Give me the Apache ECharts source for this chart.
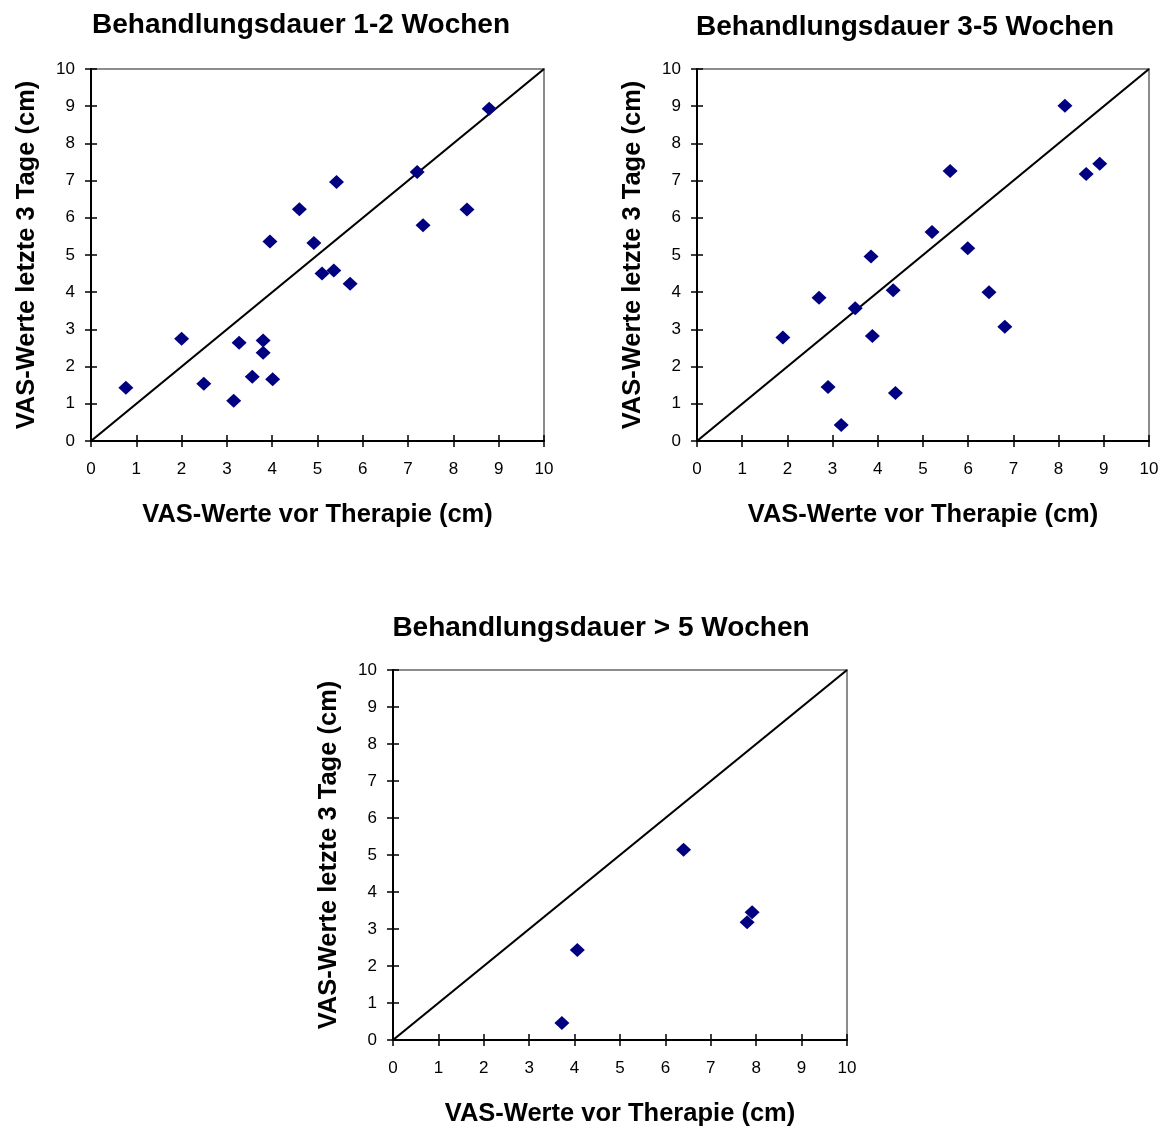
<!DOCTYPE html>
<html>
<head>
<meta charset="utf-8">
<title>Behandlungsdauer – VAS-Werte</title>
<script src="https://cdn.jsdelivr.net/npm/echarts@6/dist/echarts.min.js"></script>
<style>
  html, body { margin: 0; padding: 0; background: #ffffff; }
  #chart { width: 1170px; height: 1128px; }
</style>
</head>
<body>
<div id="chart"></div>
<script>
// VAS scores before therapy (x) and during the last 3 days (y), per treatment duration
const weeks12X = [0.77, 2.00, 2.49, 3.15, 3.27, 3.56, 3.80, 3.80, 4.01, 3.95, 4.60, 4.92, 5.10, 5.36, 5.42, 5.72, 7.20, 7.33, 8.30, 8.79];
const weeks12Y = [1.43, 2.75, 1.54, 1.08, 2.64, 1.73, 2.70, 2.37, 1.66, 5.36, 6.23, 5.32, 4.50, 4.58, 6.96, 4.23, 7.23, 5.80, 6.22, 8.93];

const weeks35X = [1.90, 2.70, 2.90, 3.19, 3.50, 3.85, 3.88, 4.34, 4.39, 5.20, 5.60, 5.99, 6.46, 6.81, 8.14, 8.61, 8.91];
const weeks35Y = [2.78, 3.85, 1.45, 0.43, 3.57, 4.96, 2.82, 4.05, 1.29, 5.62, 7.26, 5.18, 4.00, 3.07, 9.01, 7.18, 7.45];

const weeksOver5X = [3.72, 4.06, 6.40, 7.80, 7.91];
const weeksOver5Y = [0.46, 2.43, 5.14, 3.18, 3.45];

// line of no change (y = x)
const identityEnds = [0, 10];

const titles = ['Behandlungsdauer 1-2 Wochen', 'Behandlungsdauer 3-5 Wochen', 'Behandlungsdauer > 5 Wochen'];
const xAxisName = 'VAS-Werte vor Therapie (cm)';
const yAxisName = 'VAS-Werte letzte 3 Tage (cm)';

const panels = [
  { x: weeks12X, y: weeks12Y, grid: { left: 91, top: 69, width: 453, height: 372 }, titleX: 301, titleY: 11 },
  { x: weeks35X, y: weeks35Y, grid: { left: 697, top: 69, width: 452, height: 372 }, titleX: 905, titleY: 13 },
  { x: weeksOver5X, y: weeksOver5Y, grid: { left: 393, top: 670, width: 454, height: 372 }, titleX: 601, titleY: 614 }
];

const FONT = '"Liberation Sans", Arial, Helvetica, sans-serif';

const option = {
  backgroundColor: '#ffffff',
  animation: false,
  title: [],
  grid: [],
  xAxis: [],
  yAxis: [],
  series: []
};

panels.forEach((p, i) => {
  option.title.push({
    text: titles[i],
    left: p.titleX,
    top: p.titleY,
    textAlign: 'center',
    padding: 0,
    textStyle: { fontFamily: FONT, fontSize: 28, fontWeight: 'bold', color: '#000' }
  });
  option.grid.push(Object.assign({
    show: true,
    borderColor: '#8c8c8c',
    borderWidth: 2,
    backgroundColor: 'transparent'
  }, p.grid));

  // main axes: line, outward ticks, labels, names
  option.xAxis.push({
    gridIndex: i, type: 'value', min: 0, max: 10, interval: 1,
    position: 'bottom',
    name: xAxisName, nameLocation: 'middle', nameGap: 61,
    nameTextStyle: { fontFamily: FONT, fontSize: 25.5, fontWeight: 'bold', color: '#000' },
    axisLine: { show: true, lineStyle: { color: '#000', width: 2 } },
    axisTick: { show: true, length: 6, lineStyle: { color: '#000', width: 1.5 } },
    axisLabel: { fontFamily: FONT, fontSize: 17, color: '#000', margin: 20 },
    splitLine: { show: false }
  });
  option.yAxis.push({
    gridIndex: i, type: 'value', min: 0, max: 10, interval: 1,
    position: 'left',
    name: yAxisName, nameLocation: 'middle', nameGap: 51,
    nameTextStyle: { fontFamily: FONT, fontSize: 25.5, fontWeight: 'bold', color: '#000' },
    axisLine: { show: true, lineStyle: { color: '#000', width: 2 } },
    axisTick: { show: true, length: 6, lineStyle: { color: '#000', width: 1.5 } },
    axisLabel: { fontFamily: FONT, fontSize: 17, color: '#000', margin: 16 },
    splitLine: { show: false }
  });
  // companion axes: inward halves of the crossing tick marks
  option.xAxis.push({
    gridIndex: i, type: 'value', min: 0, max: 10, interval: 1,
    position: 'bottom',
    axisLine: { show: false },
    axisTick: { show: true, inside: true, length: 6, lineStyle: { color: '#000', width: 1.5 } },
    axisLabel: { show: false },
    splitLine: { show: false }
  });
  option.yAxis.push({
    gridIndex: i, type: 'value', min: 0, max: 10, interval: 1,
    position: 'left',
    axisLine: { show: false },
    axisTick: { show: true, inside: true, length: 6, lineStyle: { color: '#000', width: 1.5 } },
    axisLabel: { show: false },
    splitLine: { show: false }
  });

  const axisIdx = i * 2;
  option.series.push({
    type: 'line',
    xAxisIndex: axisIdx, yAxisIndex: axisIdx,
    data: identityEnds.map(v => [v, v]),
    symbol: 'none',
    lineStyle: { color: '#000', width: 2.2 },
    silent: true,
    z: 2
  });
  option.series.push({
    type: 'scatter',
    xAxisIndex: axisIdx, yAxisIndex: axisIdx,
    data: p.x.map((v, k) => [v, p.y[k]]),
    symbol: 'diamond',
    symbolSize: [15, 14],
    itemStyle: { color: '#000080', opacity: 1 },
    z: 3
  });
});

const chart = echarts.init(document.getElementById('chart'), null, { renderer: 'canvas' });
chart.setOption(option);
</script>
</body>
</html>
